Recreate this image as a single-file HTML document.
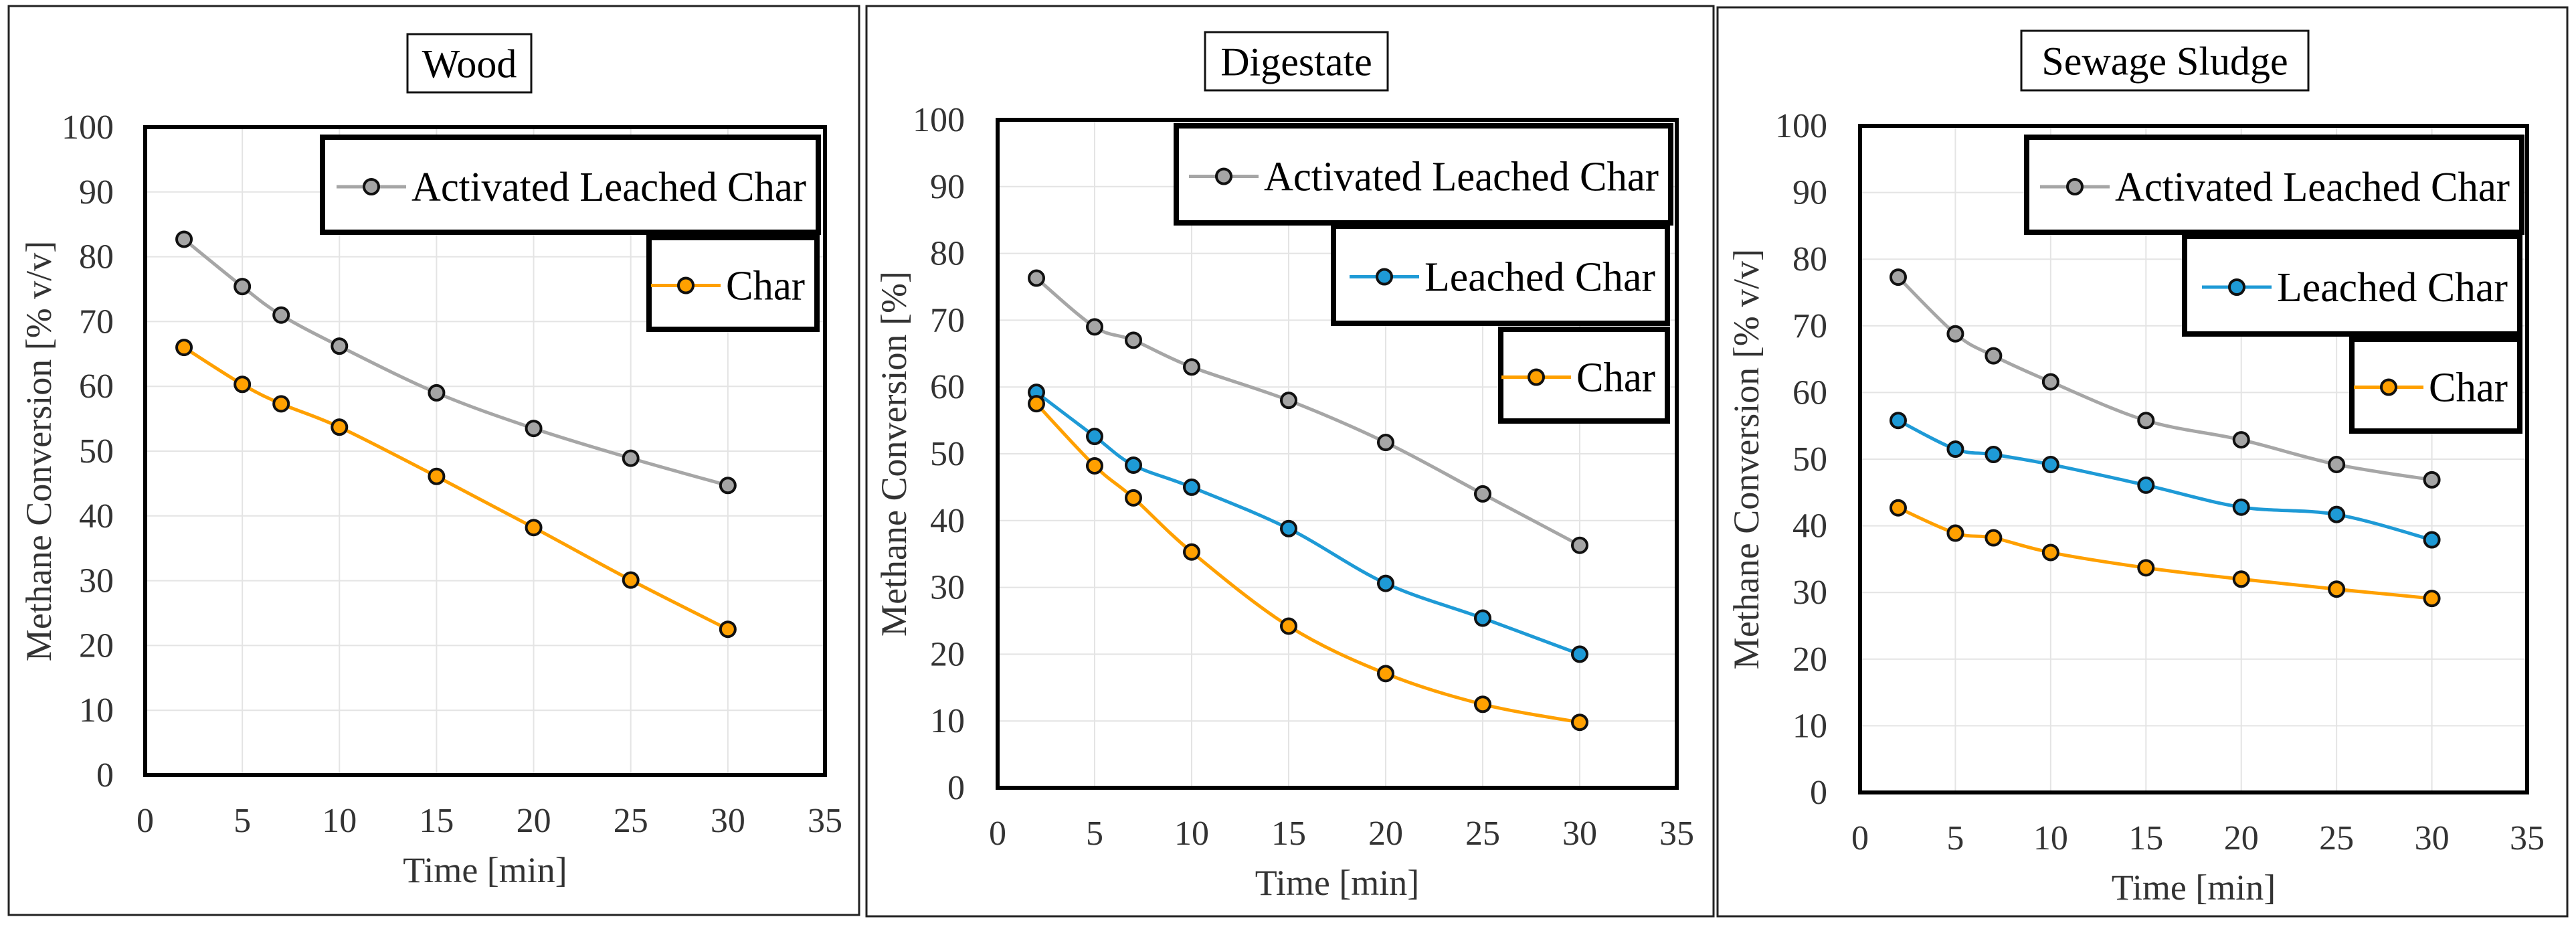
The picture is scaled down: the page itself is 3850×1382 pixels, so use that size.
<!DOCTYPE html>
<html><head><meta charset="utf-8"><style>
html,body{margin:0;padding:0;background:#fff}
svg{display:block;font-family:"Liberation Serif",serif}
</style></head><body>
<svg id="chart" width="3850" height="1382" viewBox="0 0 3850 1382" xmlns="http://www.w3.org/2000/svg"></svg>
<script>
const xValues=[2,5,7,10,15,20,25,30];
const xTicks=[0,5,10,15,20,25,30,35];
const yTicks=[0,10,20,30,40,50,60,70,80,90,100];
const woodALC=[82.7,75.4,71,66.2,59,53.5,48.9,44.7];
const woodChar=[66,60.3,57.3,53.7,46.1,38.2,30.1,22.5];
const digALC=[76.3,69,67,63,58,51.7,44,36.3];
const digLC=[59.2,52.6,48.3,45,38.8,30.6,25.4,20];
const digChar=[57.5,48.2,43.4,35.3,24.2,17.1,12.5,9.8];
const sewALC=[77.3,68.8,65.5,61.6,55.8,52.9,49.2,46.9];
const sewLC=[55.8,51.5,50.7,49.2,46.1,42.8,41.7,37.9];
const sewChar=[42.7,38.9,38.2,36,33.7,32,30.5,29.1];

const NS="http://www.w3.org/2000/svg";
const svg=document.getElementById('chart');
function mk(tag,attrs,parent){const e=document.createElementNS(NS,tag);for(const k in attrs)e.setAttribute(k,attrs[k]);(parent||svg).appendChild(e);return e;}
const COL={alc:{line:'#a6a6a6',fill:'#a5a5a5'},lc:{line:'#1e9ad6',fill:'#1e9ad6'},ch:{line:'#ffa000',fill:'#ffa000'}};

const panels=[
 {key:'wood',title:'Wood',frame:[13,9,1271,1358],tbox:[609,51,185,87],plot:[217,190,1233,1158],tickR:170,ytx:58,ytitle:'Methane Conversion  [% v/v]',
  series:[{n:'Activated Leached Char',c:'alc',d:woodALC},{n:'Char',c:'ch',d:woodChar}],
  legends:[[482,205,741,142],[970,355,251,137]]},
 {key:'digestate',title:'Digestate',frame:[1295,9,1266,1360],tbox:[1801,48,273,87],plot:[1491,179,2506,1177],tickR:1442,ytx:1336,ytitle:'Methane Conversion  [%]',
  series:[{n:'Activated Leached Char',c:'alc',d:digALC},{n:'Leached Char',c:'lc',d:digLC},{n:'Char',c:'ch',d:digChar}],
  legends:[[1758,188,739,145],[1993,338,499,145],[2243,492,249,137]]},
 {key:'sewage-sludge',title:'Sewage Sludge',frame:[2567,11,1270,1358],tbox:[3021,46,429,89],plot:[2780,188,3777,1184],tickR:2731,ytx:2610,ytitle:'Methane Conversion  [% v/v]',
  series:[{n:'Activated Leached Char',c:'alc',d:sewALC},{n:'Leached Char',c:'lc',d:sewLC},{n:'Char',c:'ch',d:sewChar}],
  legends:[[3029,205,740,142],[3265,353,501,146],[3515,507,251,137]]}
];

function smoothPath(pts){
 let d=`M${pts[0][0]},${pts[0][1]}`;
 for(let i=0;i<pts.length-1;i++){
  const p0=pts[i-1]||pts[i],p1=pts[i],p2=pts[i+1],p3=pts[i+2]||p2;
  const t=1/6;
  const c1=[p1[0]+(p2[0]-p0[0])*t,p1[1]+(p2[1]-p0[1])*t];
  const c2=[p2[0]-(p3[0]-p1[0])*t,p2[1]-(p3[1]-p1[1])*t];
  d+=` C${c1[0]},${c1[1]} ${c2[0]},${c2[1]} ${p2[0]},${p2[1]}`;
 }
 return d;
}

panels.forEach(p=>{
 const g=mk('g',{});
 
 
 const fr=mk('rect',{x:p.frame[0],y:p.frame[1],width:p.frame[2],height:p.frame[3],fill:'#fff',stroke:'#222','stroke-width':3},g);
 
 
 const tb=mk('rect',{x:p.tbox[0],y:p.tbox[1],width:p.tbox[2],height:p.tbox[3],fill:'#fff',stroke:'#111','stroke-width':3},g);
 
 
 const tt=mk('text',{x:p.tbox[0]+p.tbox[2]/2,y:p.tbox[1]+p.tbox[3]/2+21,'text-anchor':'middle','font-size':60,fill:'#000'},g);
 tt.textContent=p.title;
 
 
 const [L,T,R,B]=p.plot;
 const xs=v=>L+(v-0)/35*(R-L);
 const ys=v=>B-(v-0)/100*(B-T);
 yTicks.forEach(v=>{
  if(v>0&&v<100){const gl=mk('line',{x1:L,x2:R,y1:ys(v),y2:ys(v),stroke:'#e4e4e4','stroke-width':2},g);
  }
  const t=mk('text',{x:p.tickR,y:ys(v)+17,'text-anchor':'end','font-size':52,fill:'#333'},g);
  t.textContent=v;
  
  
 });
 xTicks.forEach(v=>{
  if(v>0&&v<35){const gl=mk('line',{x1:xs(v),x2:xs(v),y1:T,y2:B,stroke:'#e4e4e4','stroke-width':2},g);
  }
  const t=mk('text',{x:xs(v),y:B+85,'text-anchor':'middle','font-size':52,fill:'#333'},g);
  t.textContent=v;
  
  
 });
 const pa=mk('rect',{x:L,y:T,width:R-L,height:B-T,fill:'none',stroke:'#000','stroke-width':6},g);
 
 
 const xt=mk('text',{x:(L+R)/2,y:B+160,'text-anchor':'middle','font-size':54,fill:'#333'},g);
 xt.textContent='Time [min]';
 
 
 const yc=(T+B)/2;
 const yt=mk('text',{x:p.ytx+18,y:yc,'text-anchor':'middle','font-size':54,fill:'#333',transform:`rotate(-90 ${p.ytx+18} ${yc})`},g);
 yt.textContent=p.ytitle;
 
 
 p.series.forEach((s,si)=>{
  const pts=s.d.map((v,i)=>[xs(xValues[i]),ys(v)]);
  const ln=mk('path',{d:smoothPath(pts),fill:'none',stroke:COL[s.c].line,'stroke-width':5},g);
  
  
  pts.forEach(pt=>{
   const c=mk('circle',{cx:pt[0],cy:pt[1],r:11,fill:COL[s.c].fill,stroke:'#111','stroke-width':4},g);
   
   
  });
  const lg=p.legends[si];
  const lb=mk('rect',{x:lg[0],y:lg[1],width:lg[2],height:lg[3],fill:'#fff',stroke:'#000','stroke-width':8},g);
  
  
  const cy=lg[1]+lg[3]/2+3;
  const tw=s.n==='Activated Leached Char'?590:(s.n==='Leached Char'?345:118);
  const tx=lg[0]+lg[2]-18-tw;
  const sx1=tx-112,sx2=tx-8;
  mk('line',{x1:sx1,x2:sx2,y1:cy,y2:cy,stroke:COL[s.c].line,'stroke-width':5},g);
  const mc=mk('circle',{cx:(sx1+sx2)/2,cy:cy,r:11,fill:COL[s.c].fill,stroke:'#111','stroke-width':4},g);
  
  
  const lt=mk('text',{x:tx,y:cy+21,'font-size':62,fill:'#000',textLength:tw,lengthAdjust:'spacingAndGlyphs'},g);
  lt.textContent=s.n;
  
  
 });
});
</script>
</body></html>
